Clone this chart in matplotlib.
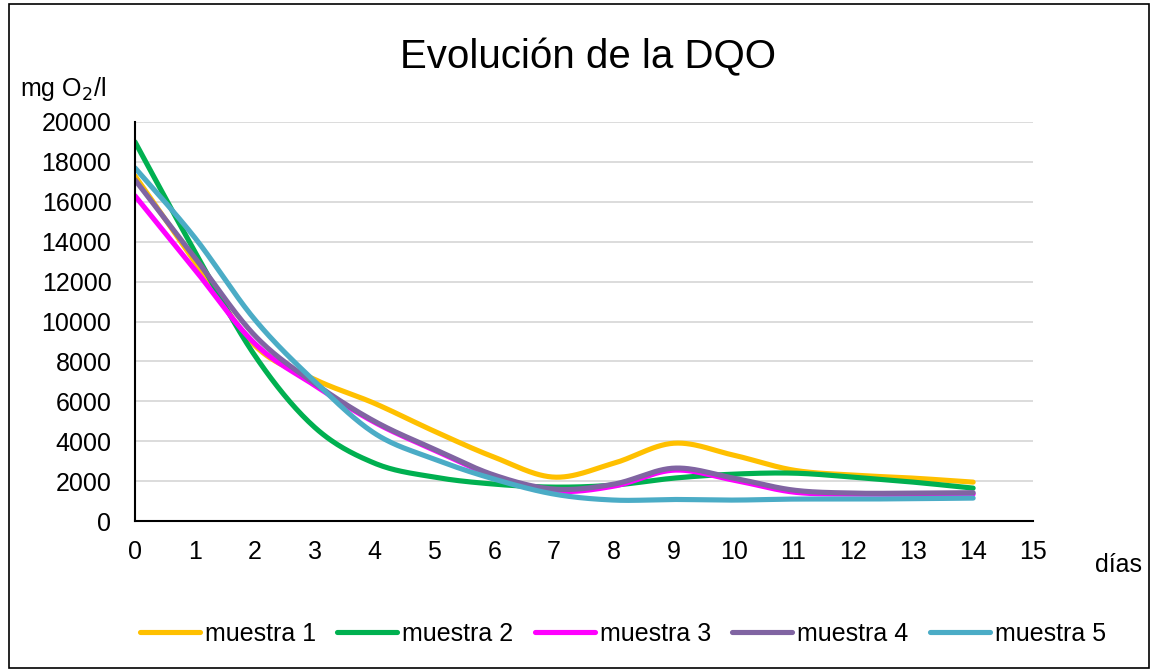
import numpy as np
import matplotlib
matplotlib.use("Agg")
import matplotlib.pyplot as plt
from matplotlib.patches import Rectangle

plt.rcParams['font.family'] = ['Liberation Sans', 'DejaVu Sans']

dias = [0, 1, 2, 3, 4, 5, 6, 7, 8, 9, 10, 11, 12, 13, 14]
muestra_1 = [17300, 13000, 8800, 7100, 5900, 4500, 3200, 2200, 2900, 3900, 3300, 2550, 2300, 2150, 1950]
muestra_2 = [19000, 13500, 8300, 4700, 2900, 2200, 1850, 1700, 1800, 2150, 2350, 2400, 2200, 1950, 1650]
muestra_3 = [16300, 12600, 8900, 6800, 4950, 3550, 2250, 1500, 1750, 2550, 2050, 1450, 1350, 1350, 1350]
muestra_4 = [17100, 13200, 9300, 6900, 5000, 3600, 2300, 1600, 1850, 2650, 2150, 1550, 1400, 1400, 1420]
muestra_5 = [17700, 14200, 10100, 7000, 4400, 3100, 2100, 1350, 1050, 1080, 1050, 1100, 1100, 1120, 1150]

series = [("muestra 1", muestra_1, "#FFC000"),
          ("muestra 2", muestra_2, "#00B050"),
          ("muestra 3", muestra_3, "#FF00FF"),
          ("muestra 4", muestra_4, "#8064A2"),
          ("muestra 5", muestra_5, "#4BACC6")]


def smooth(x, y, n=30):
    x = np.asarray(x, float)
    y = np.asarray(y, float)
    px = np.concatenate([[x[0]], x, [x[-1]]])
    py = np.concatenate([[y[0]], y, [y[-1]]])
    xs, ys = [], []
    t = np.linspace(0, 1, n)
    for i in range(1, len(px) - 2):
        p0 = np.array([px[i], py[i]])
        p3 = np.array([px[i + 1], py[i + 1]])
        p1 = p0 + (np.array([px[i + 1], py[i + 1]]) - np.array([px[i - 1], py[i - 1]])) / 6
        p2 = p3 - (np.array([px[i + 2], py[i + 2]]) - np.array([px[i], py[i]])) / 6
        b = ((1 - t) ** 3)[:, None] * p0 + (3 * (1 - t) ** 2 * t)[:, None] * p1 \
            + (3 * (1 - t) * t ** 2)[:, None] * p2 + (t ** 3)[:, None] * p3
        xs.append(b[:, 0])
        ys.append(b[:, 1])
    return np.concatenate(xs), np.concatenate(ys)


fig = plt.figure(figsize=(11.51, 6.71), dpi=100)
ax = fig.add_axes([0.1173, 0.2235, 0.7802, 0.5947])

for name, vals, col in series:
    sx, sy = smooth(dias, vals)
    ax.plot(sx, sy, color=col, lw=3.7, label=name, solid_capstyle='round')

ax.set_xlim(0, 15)
ax.set_ylim(0, 20000)
ax.set_xticks(range(0, 16))
ax.set_yticks(range(0, 20001, 2000))
ax.tick_params(axis='both', length=0, labelsize=18, colors='black')
ax.tick_params(axis='x', pad=14)
ax.tick_params(axis='y', pad=17)
ax.grid(axis='y', color='#D9D9D9', lw=1.3)
ax.set_axisbelow(True)
for s in ['top', 'right']:
    ax.spines[s].set_visible(False)
ax.spines['left'].set_linewidth(1.5)
ax.spines['bottom'].set_linewidth(1.5)

fig.text(0.511, 0.915, "Evolución de la DQO", ha='center', va='center', fontsize=29)
fig.text(0.017, 0.868, "mg O$_2$/l", ha='left', va='center', fontsize=18)
fig.text(0.951, 0.158, "días", ha='left', va='center', fontsize=18)

leg = fig.legend(loc='center', bbox_to_anchor=(0.541, 0.055), ncol=5, frameon=False,
                 fontsize=18, handlelength=2.4, columnspacing=0.85, handletextpad=0.2)

fig.patches.append(Rectangle((0.008, 0.004), 0.99, 0.99, transform=fig.transFigure,
                             fill=False, edgecolor='black', lw=1.2))

fig.savefig("out.png", dpi=100)
